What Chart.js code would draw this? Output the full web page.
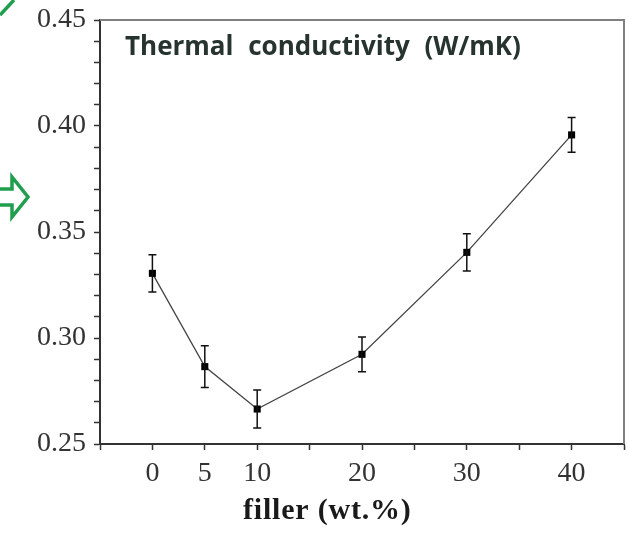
<!DOCTYPE html>
<html>
<head>
<meta charset="utf-8">
<script src="https://cdn.jsdelivr.net/npm/chart.js@4.4.0/dist/chart.umd.min.js"></script>
<style>
  html, body { margin: 0; padding: 0; background: #fff; }
  .chart-container { width: 629px; height: 533px; }
</style>
</head>
<body>
<div class="chart-container">
  <canvas id="maingraph" width="629" height="533"></canvas>
</div>
<script>
// filler content (wt.%) and measured thermal conductivity (W/mK)
const fillerPct = [0, 5, 10, 20, 30, 40];
const conductivity = [0.3305, 0.2865, 0.2665, 0.2923, 0.3404, 0.3958];
const errors = [0.0088, 0.0098, 0.0090, 0.0082, 0.0088, 0.0082];
const xTickLabels = [0, 5, 10, 20, 30, 40];
const yTickLabels = [0.25, 0.30, 0.35, 0.40, 0.45];

const serif = '"Liberation Serif", "Times New Roman", serif';

// error bars drawn through the chart scales
const errorBars = {
    id: 'errorBars',
    afterDatasetsDraw(chart) {
        const ctx = chart.ctx;
        const xs = chart.scales.x, ys = chart.scales.y;
        ctx.save();
        ctx.strokeStyle = '#111';
        ctx.lineWidth = 1.5;
        for (let i = 0; i < fillerPct.length; i++) {
            const x = xs.getPixelForValue(fillerPct[i]);
            const top = ys.getPixelForValue(conductivity[i] + errors[i]);
            const bot = ys.getPixelForValue(conductivity[i] - errors[i]);
            ctx.beginPath();
            ctx.moveTo(x, top); ctx.lineTo(x, bot);
            ctx.moveTo(x - 4, top); ctx.lineTo(x + 4, top);
            ctx.moveTo(x - 4, bot); ctx.lineTo(x + 4, bot);
            ctx.stroke();
        }
        ctx.restore();
    }
};

// grey frame on top/right, titles, and the cropped green marks at the left edge
const decor = {
    id: 'decor',
    afterDraw(chart) {
        const ctx = chart.ctx;
        const a = chart.chartArea;
        ctx.save();
        ctx.strokeStyle = '#808080';
        ctx.lineWidth = 2;
        ctx.beginPath();
        ctx.moveTo(a.left, a.top);
        ctx.lineTo(a.right, a.top);
        ctx.lineTo(a.right, a.bottom);
        ctx.stroke();

        ctx.fillStyle = '#27332f';
        ctx.font = 'bold 26px "Open Sans", sans-serif';
        ctx.textBaseline = 'alphabetic';
        ctx.wordSpacing = '8px';
        ctx.fillText('Thermal conductivity (W/mK)', a.left + 25, 55);

        // x axis title sits left of centre in the original
        ctx.fillStyle = '#1a1a1a';
        ctx.font = 'bold 30px ' + serif;
        ctx.letterSpacing = '0.8px';
        ctx.wordSpacing = '0px';
        ctx.fillText('filler (wt.%)', 243, 519);

        ctx.letterSpacing = '0px';
        ctx.strokeStyle = '#1f9e4e';
        ctx.lineWidth = 3.5;
        ctx.beginPath();
        ctx.moveTo(0, 15); ctx.lineTo(14, 0);
        ctx.stroke();
        ctx.beginPath();
        ctx.moveTo(0, 189); ctx.lineTo(12, 189); ctx.lineTo(12, 177);
        ctx.lineTo(28, 197);
        ctx.lineTo(12, 217); ctx.lineTo(12, 205); ctx.lineTo(0, 205);
        ctx.stroke();
        ctx.restore();
    }
};

const ctx = document.getElementById('maingraph');

new Chart(ctx, {
    type: 'line',
    data: {
        datasets: [{
            label: 'Thermal conductivity',
            data: fillerPct.map((x, i) => ({ x: x, y: conductivity[i] })),
            borderColor: '#444',
            borderWidth: 1.3,
            pointStyle: 'rect',
            pointRadius: 5,
            pointBackgroundColor: '#000',
            pointBorderColor: '#000',
            pointBorderWidth: 0,
            tension: 0
        }]
    },
    options: {
        responsive: false,
        animation: false,
        layout: { padding: { top: 20, right: 3, left: 0, bottom: 0 } },
        plugins: {
            legend: { display: false },
            tooltip: { enabled: false }
        },
        scales: {
            x: {
                type: 'linear',
                min: -5,
                max: 45,
                afterFit: (s) => { s.height = 89; s.paddingLeft = 0; s.paddingRight = 0; },
                border: { color: '#333', width: 2 },
                grid: { drawOnChartArea: false, tickLength: 6, color: '#333', tickWidth: 1.5 },
                ticks: {
                    stepSize: 5,
                    autoSkip: false,
                    maxRotation: 0,
                    padding: 7,
                    color: '#333',
                    font: { family: serif, size: 28 },
                    callback: (v) => xTickLabels.includes(v) ? String(v) : ''
                }
            },
            y: {
                min: 0.25,
                max: 0.45,
                afterFit: (s) => { s.width = 100; s.paddingTop = 0; s.paddingBottom = 0; },
                border: { color: '#333', width: 2 },
                grid: { drawOnChartArea: false, tickLength: 6, color: '#333', tickWidth: 1.5 },
                ticks: {
                    stepSize: 0.01,
                    autoSkip: false,
                    padding: 8,
                    color: '#333',
                    font: { family: serif, size: 28 },
                    callback: (v) => {
                        const hit = yTickLabels.find(t => Math.abs(t - v) < 1e-6);
                        return hit !== undefined ? hit.toFixed(2) : '';
                    }
                }
            }
        }
    },
    plugins: [errorBars, decor]
});
</script>
</body>
</html>
